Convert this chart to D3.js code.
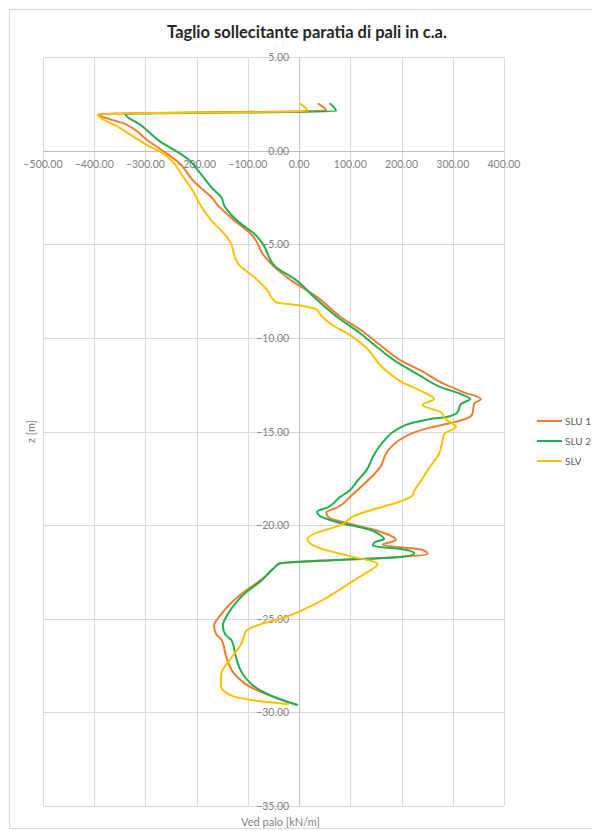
<!DOCTYPE html>
<html>
<head>
<meta charset="utf-8">
<script src="https://cdn.jsdelivr.net/npm/d3@7"></script>
<style>
  html, body { margin: 0; padding: 0; background: #ffffff; }
  svg { display: block; }
</style>
</head>
<body>
<div id="chart"></div>
<script>
// Shear along the pile wall: depth z [m] vs Ved [kN/m] for each load combination
const zSLU1 = [2.5, 2.14, 1.95, 1.43, 0.53, -0.09, -0.62, -1.69, -2.49, -2.94, -3.74, -4.45, -4.81, -5.52, -6.14, -6.94, -7.84, -8.90, -9.71, -10.42, -11.22, -11.75, -12.46, -12.91, -13.27, -13.5, -14.07, -14.25, -14.51, -14.78, -15.05, -15.4, -16.03, -16.92, -17.27, -17.8, -18.34, -19.05, -19.32, -19.62, -19.85, -20.3, -20.8, -21.05, -21.33, -21.54, -21.76, -22.05, -22.26, -22.79, -23.68, -24.75, -25.37, -25.82, -26.14, -27.07, -27.95, -28.67, -29.2, -29.59];
const vSLU1 = [38, 53, -393, -340, -295, -262, -236, -204, -171, -158, -126, -94, -84, -71, -51, -15, 36, 82, 127, 160, 199, 238, 283, 322, 355, 342, 338, 332, 303, 257, 225, 199, 173, 158, 147, 127, 105, 75, 53, 59, 88, 153, 189, 163, 241, 251, 160, -38, -48, -68, -113, -152, -166, -162, -151, -142, -126, -94, -48, -6];

const zSLU2 = [2.5, 2.1, 1.96, 1.34, 0.44, -0.09, -0.45, -1.07, -2.05, -2.49, -2.94, -3.92, -4.45, -4.98, -6.23, -6.85, -7.84, -8.90, -9.79, -10.51, -11.31, -11.93, -12.64, -13.0, -13.27, -13.53, -13.98, -14.21, -14.33, -14.51, -14.87, -15.49, -16.2, -17.09, -17.63, -18.16, -18.52, -19.05, -19.28, -19.5, -19.85, -20.26, -20.48, -20.74, -20.92, -21.1, -21.28, -21.51, -21.72, -21.87, -22.05, -22.26, -22.97, -23.68, -24.75, -25.37, -25.91, -26.14, -27.07, -27.95, -28.85, -29.38, -29.59];
const vSLU2 = [61, 72, -339, -308, -269, -236, -217, -197, -168, -152, -146, -113, -87, -71, -45, -9, 30, 75, 121, 153, 192, 231, 277, 316, 334, 316, 309, 290, 257, 225, 192, 166, 147, 131, 114, 98, 79, 56, 35, 40, 75, 140, 156, 166, 147, 144, 199, 225, 192, 62, -38, -48, -74, -107, -139, -149, -142, -132, -123, -110, -74, -29, -4];

const zSLV = [2.5, 2.1, 1.96, 1.16, 0.27, -0.09, -0.53, -1.25, -2.31, -2.85, -3.74, -4.45, -4.81, -6.05, -6.77, -7.39, -8.10, -8.28, -8.46, -8.81, -9.26, -9.88, -10.42, -11.66, -12.38, -12.91, -13.27, -13.57, -13.98, -14.33, -14.74, -15.14, -15.49, -16.2, -16.83, -17.63, -18.16, -18.43, -18.79, -19.14, -19.5, -20.03, -20.39, -20.74, -21.19, -21.63, -22.08, -22.61, -23.06, -24.04, -24.4, -24.93, -25.28, -25.64, -26.35, -27.07, -27.95, -28.58, -29.11, -29.34, -29.56];
const vSLV = [2, 17, -393, -347, -295, -269, -249, -230, -204, -194, -171, -146, -136, -119, -87, -64, -45, 4, 33, 43, 62, 101, 127, 166, 202, 244, 264, 241, 277, 286, 306, 283, 280, 273, 257, 238, 225, 221, 192, 147, 108, 79, 36, 16, 36, 95, 153, 127, 101, 43, 17, -29, -74, -103, -113, -132, -152, -153, -132, -94, -22];

const seriesNames = ["SLU 1", "SLU 2", "SLV"];
const seriesColors = ["#ED7D31", "#22AD4E", "#FFC000"];
const xTicks = [-500, -400, -300, -200, -100, 0, 100, 200, 300, 400];
const yTicks = [5, 0, -5, -10, -15, -20, -25, -30, -35];

const chartTitle = "Taglio sollecitante paratia di pali in c.a.";
const xTitle = "Ved palo [kN/m]";
const yTitle = "z [m]";

const W = 592, H = 831;
const font = "Lato, 'Open Sans', sans-serif";
const gridColor = "#d9d9d9";
const textColor = "#7f7f7f";

const svg = d3.select("#chart").append("svg")
  .attr("width", W).attr("height", H);

// chart frame
svg.append("rect")
  .attr("x", 9.5).attr("y", 9.5)
  .attr("width", W + 10).attr("height", H - 12)
  .attr("fill", "#fff").attr("stroke", gridColor).attr("stroke-width", 1);

const x = d3.scaleLinear().domain([-500, 400]).range([43, 504]);
const y = d3.scaleLinear().domain([5, -35]).range([57, 806]);

// gridlines
const grid = svg.append("g");
grid.selectAll(".vg").data(xTicks).join("line")
  .attr("x1", d => Math.round(x(d)) + 0.5).attr("x2", d => Math.round(x(d)) + 0.5)
  .attr("y1", y(5)).attr("y2", y(-35))
  .attr("stroke", gridColor).attr("stroke-width", 1);
grid.selectAll(".hg").data(yTicks).join("line")
  .attr("y1", d => Math.round(y(d)) + 0.5).attr("y2", d => Math.round(y(d)) + 0.5)
  .attr("x1", x(-500)).attr("x2", x(400))
  .attr("stroke", gridColor).attr("stroke-width", 1);

// axis lines crossing at the origin
svg.append("line")
  .attr("x1", x(-500)).attr("x2", x(400))
  .attr("y1", Math.round(y(0)) + 0.5).attr("y2", Math.round(y(0)) + 0.5)
  .attr("stroke", "#bfbfbf");
svg.append("line")
  .attr("x1", Math.round(x(0)) + 0.5).attr("x2", Math.round(x(0)) + 0.5)
  .attr("y1", y(5)).attr("y2", y(-35))
  .attr("stroke", "#bfbfbf");

const fmt = d3.format(".2f");

// tick labels
svg.append("g").selectAll("text").data(xTicks).join("text")
  .attr("x", d => x(d)).attr("y", y(0) + 17.5)
  .attr("text-anchor", "middle")
  .attr("font-family", font).attr("font-size", 10.5)
  .attr("fill", textColor)
  .text(d => fmt(d));
svg.append("g").selectAll("text").data(yTicks).join("text")
  .attr("x", x(0) - 10).attr("y", d => y(d) + 4)
  .attr("text-anchor", "end")
  .attr("font-family", font).attr("font-size", 10.5)
  .attr("fill", textColor)
  .text(d => fmt(d));

// titles
svg.append("text")
  .attr("x", 307).attr("y", 38)
  .attr("text-anchor", "middle")
  .attr("font-family", font).attr("font-size", 16.5).attr("font-weight", "bold")
  .attr("fill", "#262626")
  .text(chartTitle);
svg.append("text")
  .attr("x", (x(-500) + x(400)) / 2 + 7).attr("y", 826)
  .attr("text-anchor", "middle")
  .attr("font-family", font).attr("font-size", 11)
  .attr("fill", textColor)
  .text(xTitle);
svg.append("text")
  .attr("transform", `translate(35, ${(y(5) + y(-35)) / 2}) rotate(-90)`)
  .attr("text-anchor", "middle")
  .attr("font-family", font).attr("font-size", 11)
  .attr("fill", textColor)
  .text(yTitle);

// curves: depth decreases monotonically, so smooth along the vertical axis
const series = [
  { name: seriesNames[0], z: zSLU1, v: vSLU1, color: seriesColors[0] },
  { name: seriesNames[1], z: zSLU2, v: vSLU2, color: seriesColors[1] },
  { name: seriesNames[2], z: zSLV, v: vSLV, color: seriesColors[2] }
];
const line = d3.line()
  .x(d => x(d[0])).y(d => y(d[1]))
  .curve(d3.curveMonotoneY);

svg.append("g").selectAll("path").data(series).join("path")
  .attr("d", s => line(s.v.map((v, i) => [v, s.z[i]])))
  .attr("fill", "none")
  .attr("stroke", s => s.color)
  .attr("stroke-width", 2)
  .attr("stroke-linejoin", "round")
  .attr("stroke-linecap", "round");

// legend
const legend = svg.append("g").selectAll("g").data(series).join("g")
  .attr("transform", (s, i) => `translate(537, ${421 + i * 20})`);
legend.append("line")
  .attr("x1", 0).attr("x2", 25).attr("y1", 0).attr("y2", 0)
  .attr("stroke", s => s.color).attr("stroke-width", 2);
legend.append("text")
  .attr("x", 28).attr("y", 3.5)
  .attr("font-family", font).attr("font-size", 10)
  .attr("fill", "#595959")
  .text(s => s.name);
</script>
</body>
</html>
